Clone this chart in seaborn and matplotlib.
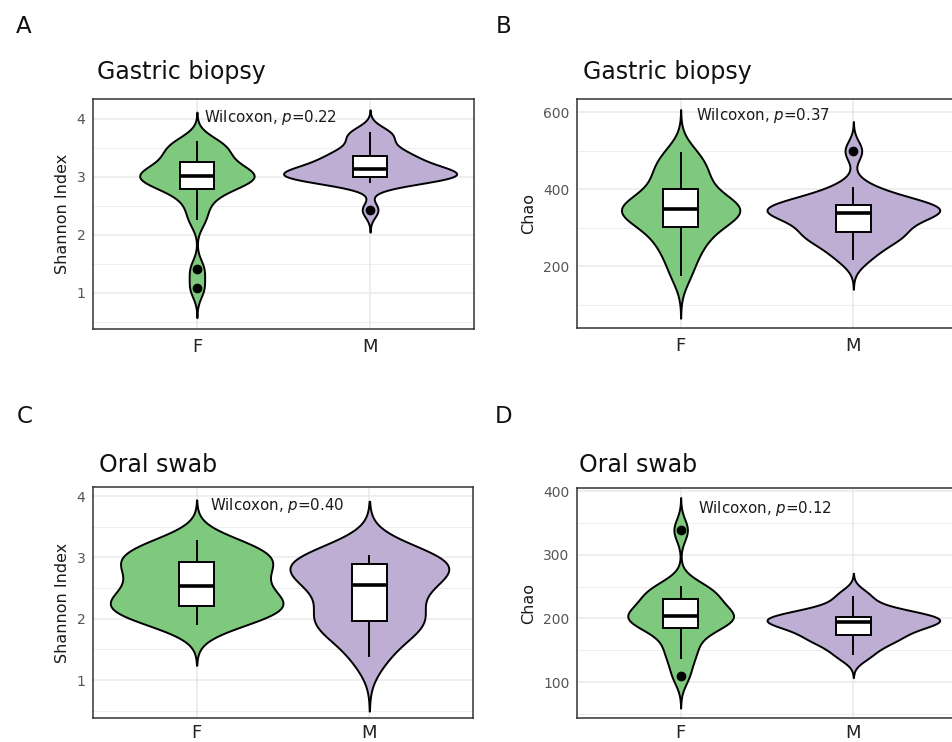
import numpy as np
import pandas as pd
import matplotlib
matplotlib.use("Agg")
import matplotlib.pyplot as plt
from matplotlib.ticker import MultipleLocator
import seaborn as sns

# ---- data -------------------------------------------------------------
groups = ["F", "M"]
palette = {"F": "#7FC97F", "M": "#BEAED4"}

# Gastric biopsy, Shannon index
gastric_shannon_F = [1.08, 1.41, 2.26, 2.50, 2.70, 2.79, 2.86, 2.92, 2.96, 2.99, 3.01,
                     3.03, 3.06, 3.10, 3.17, 3.25, 3.33, 3.42, 3.50, 3.56, 3.61]
gastric_shannon_M = [2.43, 2.90, 2.95, 2.98, 2.99, 3.00, 3.00, 3.02, 3.04, 3.07, 3.11,
                     3.15, 3.17, 3.20, 3.26, 3.33, 3.36, 3.41, 3.48, 3.62, 3.74, 3.77]

# Gastric biopsy, Chao richness
gastric_chao_F = [174, 216, 246, 268, 287, 301, 322, 332, 339, 344, 347,
                  350, 355, 362, 374, 401, 418, 436, 455, 476, 497]
gastric_chao_M = [216, 240, 258, 272, 281, 287, 291, 305, 322, 332, 337,
                  339, 342, 345, 348, 353, 360, 366, 374, 385, 406, 499]

# Oral swab, Shannon index
oral_shannon_F = [1.90, 1.98, 2.08, 2.16, 2.19, 2.24, 2.30, 2.40, 2.49,
                  2.59, 2.68, 2.80, 2.89, 2.93, 3.02, 3.10, 3.18, 3.28]
oral_shannon_M = [1.37, 1.78, 1.90, 1.97, 2.10, 2.38, 2.55, 2.68, 2.78,
                  2.89, 2.96, 3.00, 3.04]

# Oral swab, Chao richness
oral_chao_F = [110, 137, 152, 170, 184, 190, 196, 200, 203,
               205, 208, 214, 229, 231, 240, 246, 251, 339]
oral_chao_M = [142, 160, 168, 174, 184, 190, 194, 197, 200, 203, 207, 216, 236]

p_labels = ["0.22", "0.37", "0.40", "0.12"]
panel_letters = ["A", "B", "C", "D"]
panel_titles = ["Gastric biopsy", "Gastric biopsy", "Oral swab", "Oral swab"]
y_labels = ["Shannon Index", "Chao", "Shannon Index", "Chao"]


def nrd0(kde):
    """Silverman's rule of thumb (R's bw.nrd0), returned as a scipy factor."""
    x = np.asarray(kde.dataset).ravel()
    sd = x.std(ddof=1)
    q75, q25 = np.percentile(x, [75, 25])
    lo = min(sd, (q75 - q25) / 1.34)
    h = 0.9 * lo * len(x) ** -0.2
    return h / sd


def draw_panel(ax, f_vals, m_vals, ylabel, ylim, major, minor, text_x, text_y, pval,
               xpad=3):
    df = pd.DataFrame({
        "group": ["F"] * len(f_vals) + ["M"] * len(m_vals),
        "value": list(f_vals) + list(m_vals),
    })
    sns.violinplot(
        data=df, x="group", y="value", hue="group", order=groups, hue_order=groups,
        palette=palette, inner=None, cut=3, width=1.0, density_norm="area",
        common_norm=True, bw_method=nrd0, linewidth=1.4, linecolor="black",
        saturation=1, legend=False, ax=ax,
    )
    sns.boxplot(
        data=df, x="group", y="value", order=groups, width=0.2, color="white",
        linecolor="black", linewidth=1.4, showcaps=False, saturation=1,
        fliersize=6,
        flierprops=dict(marker="o", markerfacecolor="black", markeredgecolor="black"),
        medianprops=dict(linewidth=2.6, color="black"),
        ax=ax,
    )
    ax.set_xlim(-0.6, 1.6)
    ax.set_ylim(*ylim)
    ax.yaxis.set_major_locator(MultipleLocator(major))
    ax.yaxis.set_minor_locator(MultipleLocator(minor))
    ax.set_axisbelow(True)
    ax.grid(which="major", color="#EBEBEB", linewidth=1.2)
    ax.grid(which="minor", axis="y", color="#EBEBEB", linewidth=0.6)
    ax.set_xlabel("")
    ax.set_ylabel(ylabel, fontsize=11.5, color="#1a1a1a", labelpad=5)
    for sp in ax.spines.values():
        sp.set_color("#333333")
        sp.set_linewidth(1.1)
    ax.tick_params(which="major", length=3.5, width=1, color="#333333")
    ax.tick_params(which="minor", length=0)
    ax.tick_params(axis="x", labelsize=13, labelcolor="#222222", pad=xpad)
    ax.tick_params(axis="y", labelsize=10, labelcolor="#555555", pad=2)
    ax.text(text_x, text_y, "Wilcoxon, $p$=" + pval, ha="left", va="center",
            fontsize=10.8, color="#1a1a1a")


sns.set_style("white")
plt.rcParams["font.family"] = ["DejaVu Sans"]
plt.rcParams["mathtext.fontset"] = "dejavusans"

W, H = 953, 742
fig = plt.figure(figsize=(W / 100, H / 100), dpi=100, facecolor="white")


def frac_box(left, top, right, bottom):
    return [left / W, 1 - bottom / H, (right - left) / W, (bottom - top) / H]


axA = fig.add_axes(frac_box(93, 99, 474, 329))
axB = fig.add_axes(frac_box(577, 99, 957, 328))
axC = fig.add_axes(frac_box(93, 487, 473, 718))
axD = fig.add_axes(frac_box(577, 488, 957, 718))

draw_panel(axA, gastric_shannon_F, gastric_shannon_M, y_labels[0], (0.38, 4.34), 1, 0.5,
           0.04, 4.03, p_labels[0])
draw_panel(axB, gastric_chao_F, gastric_chao_M, y_labels[1], (39, 634), 200, 100,
           0.09, 590, p_labels[1])
draw_panel(axC, oral_shannon_F, oral_shannon_M, y_labels[2], (0.38, 4.15), 1, 0.5,
           0.075, 3.84, p_labels[2], xpad=0.5)
draw_panel(axD, oral_chao_F, oral_chao_M, y_labels[3], (43.5, 405), 100, 50,
           0.10, 373, p_labels[3], xpad=0.5)

# panel titles and letters
title_pos = [(97, 79), (583, 79), (99, 472), (579, 472)]
letter_pos = [(16, 33), (496, 33), (17, 423), (495, 423)]
for title, (tx, ty) in zip(panel_titles, title_pos):
    fig.text(tx / W, 1 - ty / H, title, fontsize=17, ha="left", va="baseline",
             color="#111111")
for letter, (lx, ly) in zip(panel_letters, letter_pos):
    fig.text(lx / W, 1 - ly / H, letter, fontsize=16.5, ha="left", va="baseline",
             color="#111111")

fig.savefig("out.png", dpi=100, facecolor="white")
